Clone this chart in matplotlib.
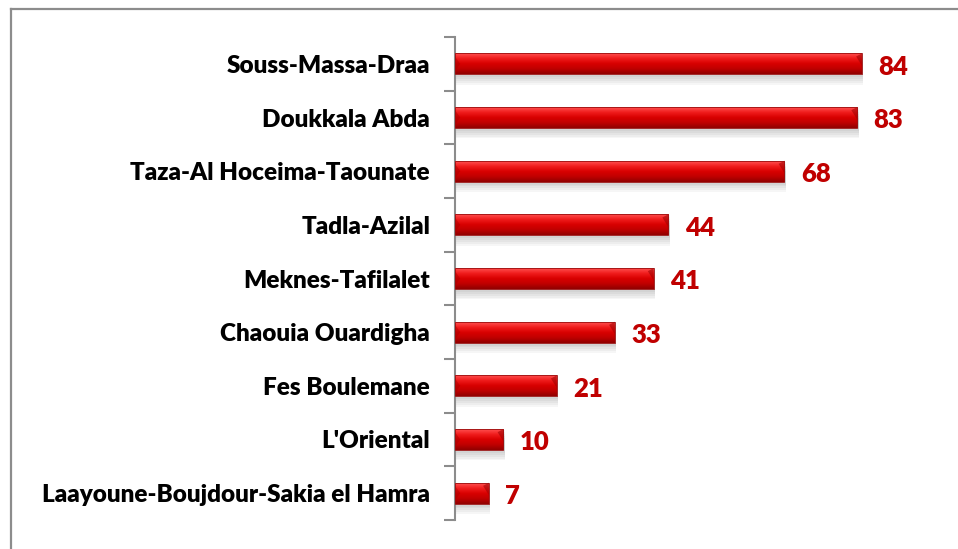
import numpy as np
import matplotlib.pyplot as plt
from matplotlib.colors import LinearSegmentedColormap
from matplotlib.patches import Rectangle

regions = ["Souss-Massa-Draa", "Doukkala Abda", "Taza-Al Hoceima-Taounate",
           "Tadla-Azilal", "Meknes-Tafilalet", "Chaouia Ouardigha",
           "Fes Boulemane", "L'Oriental", "Laayoune-Boujdour-Sakia el Hamra"]
values = [84, 83, 68, 44, 41, 33, 21, 10, 7]

plt.rcParams['font.family'] = ['Lato', 'DejaVu Sans']

fig = plt.figure(figsize=(9.58, 5.49), dpi=100)
# frame of the original chart area (left and top edges visible)
fig.add_artist(plt.Line2D([0.0115, 0.0115], [0, 0.984], color='#8c8c8c', lw=1.6))
fig.add_artist(plt.Line2D([0.0115, 1.0], [0.984, 0.984], color='#8c8c8c', lw=1.6))

ax = fig.add_axes([455 / 958, 29 / 549, 491 / 958, 483 / 549])
n = len(regions)
y = np.arange(n)
h = 0.39

# bar body gradient: light top, deep red middle, dark bottom
grad = LinearSegmentedColormap.from_list(
    "bar", ["#ff5050", "#f01c1c", "#d80000", "#c00000", "#900000"])
shade = np.linspace(0, 1, 64).reshape(-1, 1)

bars = ax.barh(y, values, height=h, color='#d00000', zorder=3)
for b in bars:
    x0, yb = b.get_x(), b.get_y()
    w, hh = b.get_width(), b.get_height()
    # soft shadow under the bar
    for k in range(6):
        ax.add_patch(Rectangle((x0 + 0.3, yb + 0.02 + k * 0.035), w, hh,
                               facecolor='black', alpha=0.035, lw=0, zorder=1))
    ax.imshow(shade, cmap=grad, aspect='auto', interpolation='bicubic',
              extent=(x0, x0 + w, yb + hh, yb), zorder=4, clip_on=True)
    # bevel on the right end
    bev = min(1.2, w * 0.25)
    ax.fill([x0 + w - bev, x0 + w, x0 + w, x0 + w - bev * 0.1],
            [yb + hh * 0.15, yb, yb + hh * 0.8, yb + hh * 0.55],
            color='#9a0000', alpha=0.55, lw=0, zorder=5)
    ax.fill([x0, x0 + bev * 0.9, x0],
            [yb + hh * 0.15, yb + hh * 0.5, yb + hh * 0.85],
            color='#a00000', alpha=0.4, lw=0, zorder=5)
    ax.add_patch(Rectangle((x0, yb), w, hh, fill=False, ec='#9a1010',
                           lw=0.6, zorder=6))

for yi, v in zip(y, values):
    ax.text(v + 3.4, yi + 0.05, str(v), va='center', ha='left', fontsize=18.5,
            fontweight='heavy', color='#c00000')

ax.set_xlim(0, 491 / 4.845)
ax.set_ylim(n - 0.5, -0.5)
ax.set_yticks(y)
ax.set_yticklabels(regions, fontsize=17.5, fontweight='heavy')
ax.set_yticks(np.arange(n + 1) - 0.5, minor=True)
ax.tick_params(axis='y', which='major', length=0, pad=18)
ax.tick_params(axis='y', which='minor', length=8, width=1.5, color='#8c8c8c')
ax.set_xticks([])
for s in ['top', 'right', 'bottom']:
    ax.spines[s].set_visible(False)
ax.spines['left'].set_color('#8c8c8c')
ax.spines['left'].set_linewidth(1.5)

fig.savefig("out.png", dpi=100)
